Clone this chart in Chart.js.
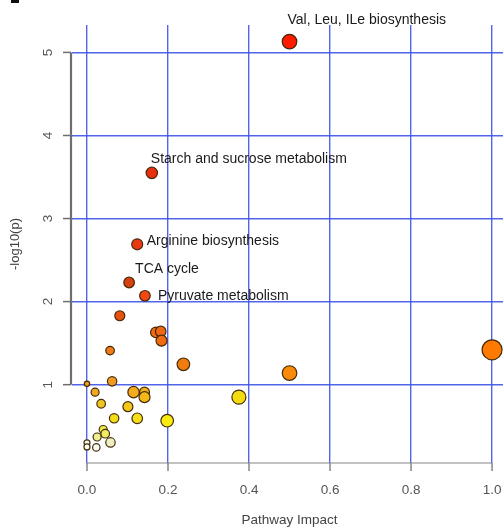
<!DOCTYPE html>
<html>
<head>
<meta charset="utf-8">
<script src="https://cdn.jsdelivr.net/npm/chart.js@4"></script>
<style>
  html, body { margin: 0; padding: 0; background: #fff; }
  canvas { display: block; }
</style>
</head>
<body>
<canvas id="c" width="503" height="529"></canvas>
<script>
// pathway impact (x) and -log10(p) (y), one entry per pathway
const impact = [0.5, 0.16, 0.124, 0.104, 0.143, 0.081, 0.170, 0.182, 0.184, 0.057, 0.238, 1.0, 0.5,
  0.0, 0.062, 0.02, 0.115, 0.142, 0.142, 0.375, 0.035, 0.101, 0.067, 0.124, 0.198,
  0.04, 0.045, 0.025, 0.058, 0.0, 0.0, 0.023];
const logP = [5.13, 3.55, 2.69, 2.23, 2.07, 1.83, 1.63, 1.64, 1.53, 1.41, 1.245, 1.42, 1.14,
  1.01, 1.04, 0.91, 0.91, 0.91, 0.85, 0.85, 0.77, 0.735, 0.595, 0.595, 0.566,
  0.46, 0.41, 0.37, 0.305, 0.30, 0.25, 0.245];
const bubbleSize = [7.3, 5.7, 5.5, 5.3, 5.3, 5, 5.3, 5.3, 5.5, 4.3, 6.3, 10, 7.3,
  2.7, 4.7, 4, 5.7, 5, 5.5, 7, 4.3, 5, 4.7, 5.3, 6.3,
  4, 4.3, 4, 4.7, 3, 3, 3.7];
// names of the labelled pathways (first points of the lists above)
const pathwayNames = ['Val, Leu, ILe biosynthesis', 'Starch and sucrose metabolism',
  'Arginine biosynthesis', 'TCA cycle', 'Pyruvate metabolism'];
const xTicks = [0, 0.2, 0.4, 0.6, 0.8, 1.0];
const xTickLabels = ['0.0', '0.2', '0.4', '0.6', '0.8', '1.0'];
const yTicks = [1, 2, 3, 4, 5];
const yTickLabels = ['1', '2', '3', '4', '5'];

// heat colours, as in the original
const fills = ['#ff1a00', '#e8300f', '#e83a10', '#d8400e', '#f04810', '#e8520f', '#f06a12', '#f06812',
  '#f06a10', '#f07a18', '#f07c10', '#ff7a00', '#f88c0a', '#e8a020', '#f09a20', '#f0a820',
  '#f5ac1a', '#f5b01a', '#f5b818', '#f5dc10', '#f2c420', '#f5c818', '#f5dc18', '#f5e018',
  '#f8ec10', '#eeea40', '#f0ee60', '#f0f090', '#eeeec0', '#f5f5e8', '#fafaf2', '#fafaf2'];
// where each name sits relative to its point (px)
const labelShift = [[-2, -21], [-1, -14], [9.5, -3], [6, -13], [13, 0]];

const FONT = 'Helvetica, Arial, "Liberation Sans", sans-serif';
const GRID = 'rgba(62, 84, 230, 0.9)';

const rAxes = {
  id: 'rAxes',
  afterDraw(chart) {
    const { ctx, chartArea, scales: { x, y } } = chart;
    ctx.save();
    // stray mark top-left
    ctx.fillStyle = '#111';
    ctx.fillRect(11, 0, 8, 3);

    // y axis, R style, offset from the plot
    const ax = 71;
    ctx.strokeStyle = '#6e6e6e';
    ctx.lineWidth = 2.2;
    ctx.beginPath();
    ctx.moveTo(ax, y.getPixelForValue(yTicks[0]));
    ctx.lineTo(ax, y.getPixelForValue(yTicks[yTicks.length - 1]));
    ctx.stroke();
    ctx.lineWidth = 1.5;
    ctx.fillStyle = '#555';
    ctx.font = '13.5px ' + FONT;
    ctx.textAlign = 'center';
    ctx.textBaseline = 'middle';
    yTicks.forEach((v, i) => {
      const py = y.getPixelForValue(v);
      ctx.beginPath();
      ctx.moveTo(63, py);
      ctx.lineTo(ax, py);
      ctx.stroke();
      ctx.save();
      ctx.translate(48, py);
      ctx.rotate(-Math.PI / 2);
      ctx.fillText(yTickLabels[i], 0, 0);
      ctx.restore();
    });

    // x axis
    const ay = chartArea.bottom;
    ctx.strokeStyle = '#858585';
    ctx.lineWidth = 1.2;
    ctx.beginPath();
    ctx.moveTo(x.getPixelForValue(xTicks[0]), ay);
    ctx.lineTo(x.getPixelForValue(xTicks[xTicks.length - 1]), ay);
    ctx.stroke();
    ctx.lineWidth = 1.5;
    xTicks.forEach((v, i) => {
      const px = x.getPixelForValue(v);
      ctx.beginPath();
      ctx.moveTo(px, ay);
      ctx.lineTo(px, ay + 8);
      ctx.stroke();
      ctx.fillText(xTickLabels[i], px, 490);
    });

    // axis titles
    ctx.fillStyle = '#444';
    ctx.fillText('Pathway Impact', (x.getPixelForValue(0) + x.getPixelForValue(1)) / 2, 520);
    ctx.save();
    ctx.translate(15, (chartArea.top + chartArea.bottom) / 2);
    ctx.rotate(-Math.PI / 2);
    ctx.font = '13px ' + FONT;
    ctx.fillText('-log10(p)', 0, 0);
    ctx.restore();

    // pathway names
    ctx.fillStyle = '#1a1a1a';
    ctx.font = '14px ' + FONT;
    ctx.textAlign = 'left';
    pathwayNames.forEach((name, i) => {
      const px = x.getPixelForValue(impact[i]);
      const py = y.getPixelForValue(logP[i]);
      ctx.fillText(name, px + labelShift[i][0], py + labelShift[i][1]);
    });
    ctx.restore();
  }
};

new Chart(document.getElementById('c'), {
  type: 'bubble',
  data: {
    datasets: [{
      data: impact.map((v, i) => ({ x: v, y: logP[i], r: bubbleSize[i] })),
      backgroundColor: fills,
      borderColor: 'rgba(60, 36, 6, 0.95)',
      borderWidth: 1.2,
      clip: false
    }]
  },
  options: {
    responsive: false,
    animation: false,
    events: [],
    layout: { autoPadding: false, padding: { left: 72, right: 0, top: 25, bottom: 66 } },
    plugins: { legend: { display: false }, tooltip: { enabled: false } },
    scales: {
      x: {
        type: 'linear',
        min: -0.037,
        max: 1.027,
        afterBuildTicks: s => { s.ticks = xTicks.map(v => ({ value: v })); },
        ticks: { display: false },
        border: { display: false },
        grid: { color: GRID, lineWidth: 1.4, drawTicks: false }
      },
      y: {
        type: 'linear',
        min: 0.057,
        max: 5.33,
        afterBuildTicks: s => { s.ticks = yTicks.map(v => ({ value: v })); },
        ticks: { display: false },
        border: { display: false },
        grid: { color: GRID, lineWidth: 1.4, drawTicks: false }
      }
    }
  },
  plugins: [rAxes]
});
</script>
</body>
</html>
